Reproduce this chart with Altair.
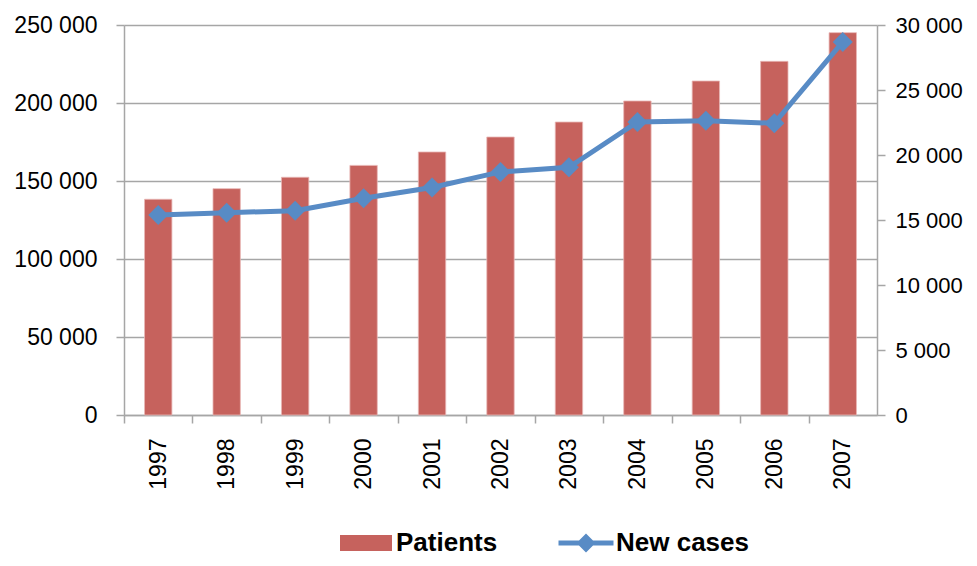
import altair as alt
import pandas as pd

years = ["1997", "1998", "1999", "2000", "2001", "2002", "2003", "2004", "2005", "2006", "2007"]
patients = [138300, 145100, 152400, 160000, 168600, 178200, 187800, 201300, 214100, 226700, 245100]
new_cases = [15380, 15560, 15720, 16670, 17500, 18700, 19050, 22540, 22640, 22440, 28700]
series_names = ["Patients", "New cases"]
series_colors = ["#C6625D", "#588BC5"]
left_ticks = [0, 50000, 100000, 150000, 200000, 250000]
right_ticks = [0, 5000, 10000, 15000, 20000, 25000, 30000]

df = pd.DataFrame({"year": years, "patients": patients, "new_cases": new_cases})

FONT = "Liberation Sans"
W, H = 753, 390
STEP = W / len(years)
GRID = "#A6A6A6"
LABEL_EXPR = "replace(format(datum.value, ','), ',', ' ')"

rect_path = "M-2.6,-0.8H2.6V0.8H-2.6Z"
line_path = "M-2.75,-0.25H2.75V0.25H-2.75Z M0,-0.95L0.95,0L0,0.95L-0.95,0Z"
symbol_expr = "datum.value === 'Patients' ? '%s' : '%s'" % (rect_path, line_path)

legend = alt.Legend(
    title=None, orient="none", direction="horizontal",
    legendX=229, legendY=505,
    labelFont=FONT, labelFontSize=26, labelFontWeight="bold", labelColor="#000000",
    symbolSize=400, labelOffset=17, columnPadding=60, symbolStrokeWidth=0,
    symbolOpacity=1, symbolType={"expr": symbol_expr},
)

color = alt.Color(
    "series:N",
    scale=alt.Scale(domain=series_names, range=series_colors),
    legend=legend,
)

x = alt.X(
    "year:N", title=None, sort=years,
    scale=alt.Scale(paddingInner=0.6, paddingOuter=0.3),
    axis=alt.Axis(
        labelAngle=-90, labelFont=FONT, labelFontSize=23, labelColor="#000000",
        labelPadding=15, tickSize=8, tickColor=GRID, tickWidth=1.5,
        tickOffset=-STEP / 2, labelOffset=STEP / 2,
        domainColor=GRID, domainWidth=1.5, grid=False,
    ),
)

base = alt.Chart(df)

bars = base.mark_bar(stroke="#E9B8B6", strokeWidth=0.8).transform_calculate(
    series="'Patients'"
).encode(
    x=x,
    y=alt.Y(
        "patients:Q", title=None,
        scale=alt.Scale(domain=[0, 250000], nice=False),
        axis=alt.Axis(
            values=left_ticks, labelExpr=LABEL_EXPR, orient="left",
            labelFont=FONT, labelFontSize=23, labelColor="#000000",
            labelPadding=19, tickSize=8, tickColor=GRID, tickWidth=1.5,
            domainColor=GRID, domainWidth=1.5,
            grid=True, gridColor=GRID, gridWidth=1.5,
        ),
    ),
    color=color,
)

y_right = alt.Y(
    "new_cases:Q", title=None,
    scale=alt.Scale(domain=[0, 30000], nice=False),
    axis=alt.Axis(
        values=right_ticks, labelExpr=LABEL_EXPR, orient="right",
        labelFont=FONT, labelFontSize=22, labelColor="#000000",
        labelPadding=10, tickSize=8, tickColor=GRID, tickWidth=1.5,
        domainColor=GRID, domainWidth=1.5, grid=False,
    ),
)

line = base.mark_line(strokeWidth=5).transform_calculate(
    series="'New cases'"
).encode(x=x, y=y_right, color=color)

points = base.mark_point(filled=True, size=400, opacity=1, shape="diamond").transform_calculate(
    series="'New cases'"
).encode(x=x, y=y_right, color=color)

chart = alt.layer(bars, alt.layer(line, points)).resolve_scale(
    y="independent"
).properties(
    width=W, height=H,
    autosize=alt.AutoSizeParams(type="none"),
    padding={"left": 116, "top": 17, "right": 92, "bottom": 143},
).configure_view(stroke=None)

chart.save("out.html", embed_options={"renderer": "svg", "actions": False})
